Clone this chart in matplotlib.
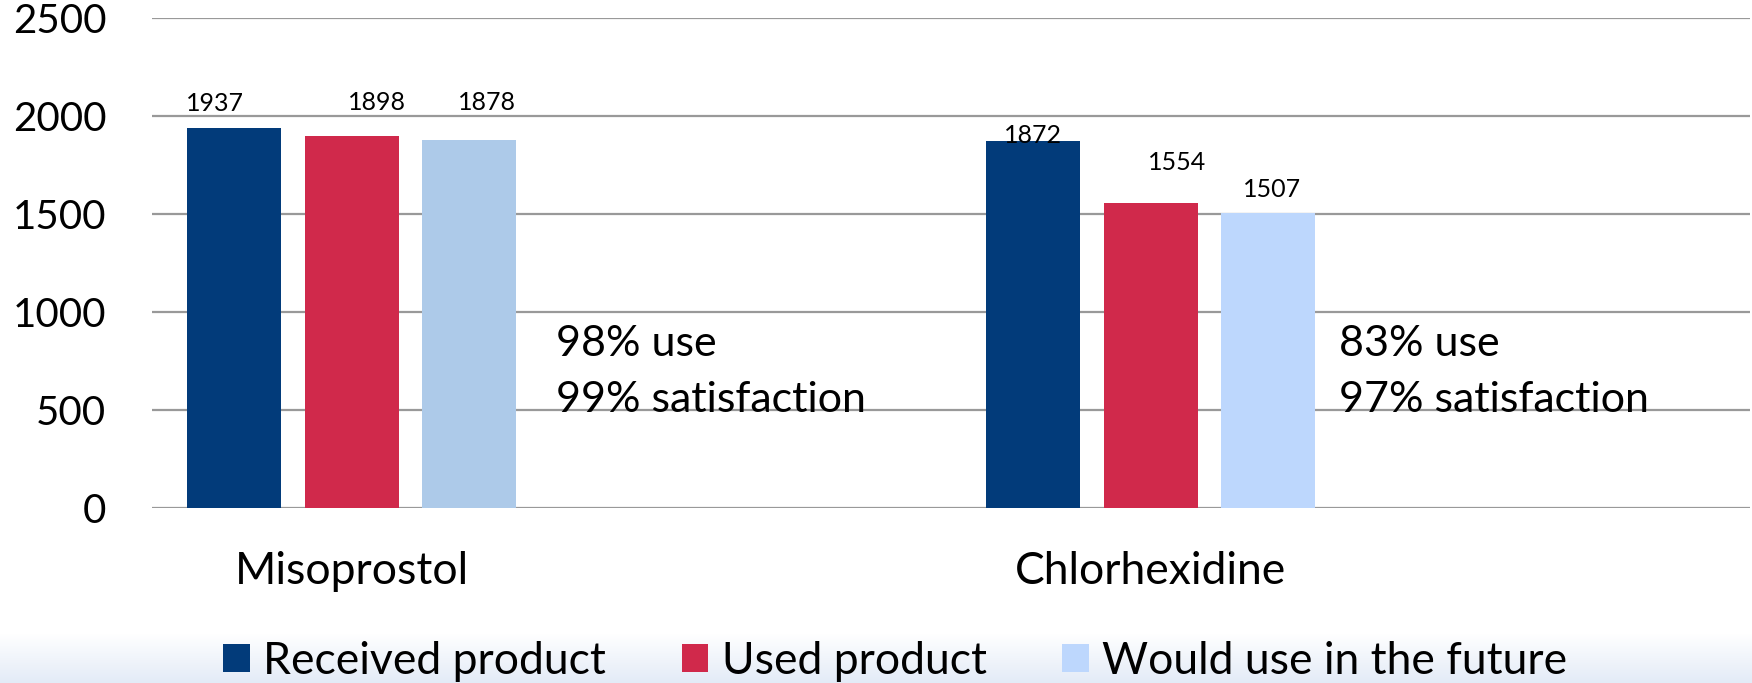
import matplotlib
matplotlib.use("Agg")
import matplotlib.pyplot as plt
import numpy as np
from matplotlib.patches import Patch
from matplotlib.colors import LinearSegmentedColormap

plt.rcParams['font.family'] = ['Lato', 'DejaVu Sans']

categories = ["Misoprostol", "Chlorhexidine"]
series_names = ["Received product", "Used product", "Would use in the future"]
received = [1937, 1872]
used = [1898, 1554]
future = [1878, 1507]
notes_use = ["98% use", "83% use"]
notes_sat = ["99% satisfaction", "97% satisfaction"]
yticks = [0, 500, 1000, 1500, 2000, 2500]

# styles / positions
blue = "#023B7A"
red = "#D0294B"
light_colors = ["#ADCAE9", "#BDD7FD"]
legend_colors = [blue, red, "#BDD7FD"]
label_offsets = [  # (dx, dy) in pixels per category, per series
    [(-19, 25), (25, 33), (18, 37)],
    [(0, 6), (26, 41), (4, 23)],
]
note_x = [0.5056, 1.4856]

W, H = 1752, 683
fig = plt.figure(figsize=(W / 100, H / 100), dpi=100)

# bottom gradient band
gax = fig.add_axes([0, 0, 1, 0.072], zorder=-5)
grad = np.linspace(0, 1, 100).reshape(-1, 1)
cmap = LinearSegmentedColormap.from_list("g", ["#E3EBF7", "#FFFFFF"])
gax.imshow(grad, aspect="auto", cmap=cmap, origin="lower", extent=[0, 1, 0, 1])
gax.axis("off")

ax = fig.add_axes([152 / W, (H - 508) / H, 1598 / W, 490 / H])
ax.set_xlim(0, 2)
ax.set_ylim(0, 2500)

x = np.arange(len(categories))
bw = 0.1176
pitch = 0.147
center = 0.25
series = [received, used, future]
for j, vals in enumerate(series):
    pos = x + center + (j - 1) * pitch
    if j == 2:
        cols = light_colors
    else:
        cols = [legend_colors[j]] * len(vals)
    bars = ax.bar(pos, vals, width=bw, color=cols, zorder=3, linewidth=0)
    for i, (b, v) in enumerate(zip(bars, vals)):
        dx, dy = label_offsets[i][j]
        ax.annotate(str(v), (b.get_x() + b.get_width() / 2, v),
                    xytext=(dx, dy), textcoords="offset pixels",
                    ha="center", va="center", fontsize=18, zorder=5)

ax.set_yticks(yticks)
ax.set_yticklabels([str(t) for t in yticks], fontsize=29)
ax.tick_params(axis="y", length=0, pad=33)
ax.set_xticks(x + center)
ax.set_xticklabels(categories, fontsize=32)
ax.tick_params(axis="x", length=0, pad=31)
ax.grid(axis="y", color="#999999", linewidth=1.6, zorder=0)
for s in ax.spines.values():
    s.set_visible(False)

for i in range(len(categories)):
    ax.text(note_x[i], 775, notes_use[i], fontsize=31, va="baseline", ha="left", zorder=6)
    ax.text(note_x[i], 490, notes_sat[i], fontsize=31, va="baseline", ha="left", zorder=6)

handles = [Patch(facecolor=c, edgecolor="none") for c in legend_colors]
fig.legend(handles, series_names, loc="center", bbox_to_anchor=(0.511, 0.032),
           ncol=3, frameon=False, fontsize=32, handlelength=0.6, handleheight=0.62,
           handletextpad=0.3, columnspacing=1.7, borderpad=0)

fig.savefig("out.png", dpi=100)
